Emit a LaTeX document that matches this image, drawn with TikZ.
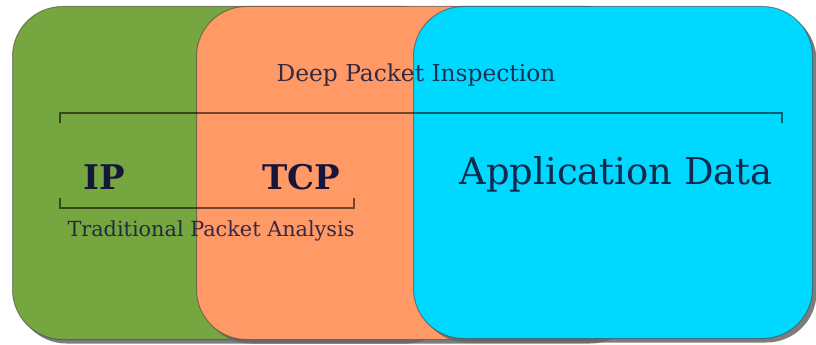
\documentclass[tikz,border=0pt]{standalone}
\usepackage{fontspec}
\setmainfont{DejaVu Serif}
\usetikzlibrary{shadows}
\definecolor{ipgreen}{RGB}{118,166,64}
\definecolor{tcporange}{RGB}{255,153,102}
\definecolor{appcyan}{RGB}{0,217,255}
\definecolor{inktext}{RGB}{20,22,58}
\begin{document}
\begin{tikzpicture}[x=1pt,y=-1pt]
\useasboundingbox (0,0) rectangle (816,345);
\tikzset{
  layer/.style={rectangle, rounded corners=50pt, draw=black!75, draw opacity=0.55,
    line width=1pt, inner sep=0pt, anchor=north west,
    drop shadow={shadow xshift=4pt, shadow yshift=-4pt, fill=black!60, opacity=0.85}},
  bracket/.style={draw=black, draw opacity=0.55, line width=1.5pt},
  label/.style={text=inktext, inner sep=0pt},
}
% stacked protocol layers
\node[layer, fill=ipgreen, minimum width=440pt, minimum height=333pt] (ip) at (12,6) {};
\node[layer, fill=tcporange, minimum width=440pt, minimum height=333pt] (tcp) at (196,6) {};
\node[layer, fill=appcyan, minimum width=399pt, minimum height=332pt] (app) at (413,6) {};

% labels
\node[label, text opacity=0.85, font=\fontsize{23.3}{27}\selectfont] (dpi) at (416,75) {Deep Packet Inspection};
\node[label, font=\fontsize{34}{38}\selectfont\bfseries] (iplbl) at (104,177) {IP};
\node[label, font=\fontsize{34}{38}\selectfont\bfseries] (tcplbl) at (301,177) {TCP};
\node[label, text opacity=0.9, font=\fontsize{36.9}{42}\selectfont] (applbl) at (616,174) {Application Data};
\node[label, text opacity=0.85, font=\fontsize{20.8}{25}\selectfont] (tpa) at (211,231) {Traditional Packet Analysis};

% span brackets
\coordinate (dpiL) at (60,123);
\coordinate (dpiR) at (782,123);
\draw[bracket] (dpiL) -- ++(0,-10) -| (dpiR);
\coordinate (tpaL) at (60,198);
\coordinate (tpaR) at (354,198);
\draw[bracket] (tpaL) -- ++(0,10) -| (tpaR);
\end{tikzpicture}
\end{document}
